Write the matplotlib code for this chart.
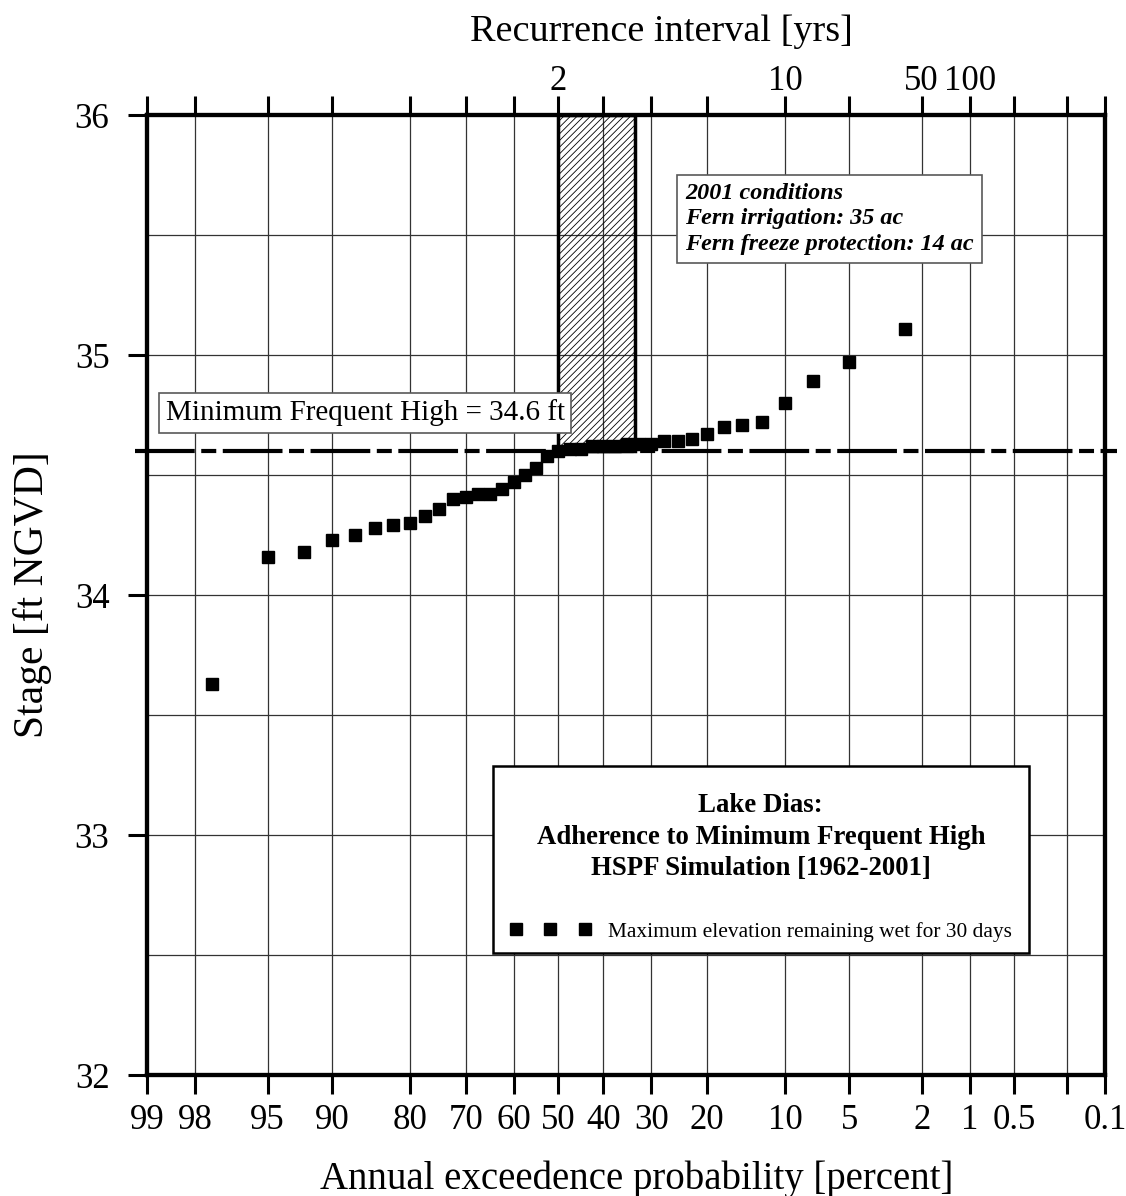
import matplotlib
matplotlib.use('Agg')
import matplotlib.pyplot as plt
from matplotlib.patches import Rectangle
from statistics import NormalDist
import numpy as np

# annual exceedance probability [%] (plotting position) and stage [ft NGVD]
exceed_pct = [2.5, 5.0, 7.5, 10.0, 12.5, 15.0, 17.5, 20.0, 22.5, 25.0,
              27.5, 30.0, 32.5, 35.0, 37.5, 40.0, 42.5, 45.0, 47.5, 50.0,
              52.5, 55.0, 57.5, 60.0, 62.5, 65.0, 67.5, 70.0, 72.5, 75.0,
              77.5, 80.0, 82.5, 85.0, 87.5, 90.0, 92.5, 95.0, 97.5]
stage_ft = [35.11, 34.97, 34.89, 34.80, 34.72, 34.71, 34.70, 34.67, 34.65, 34.64,
            34.64, 34.63, 34.63, 34.63, 34.62, 34.62, 34.62, 34.61, 34.61, 34.60,
            34.58, 34.53, 34.50, 34.47, 34.44, 34.42, 34.42, 34.41, 34.40, 34.36,
            34.33, 34.30, 34.29, 34.28, 34.25, 34.23, 34.18, 34.16, 33.63]

prob_ticks = [99, 98, 95, 90, 80, 70, 60, 50, 40, 30, 20, 10, 5, 2, 1, 0.5, 0.2, 0.1]
prob_labels = ['99', '98', '95', '90', '80', '70', '60', '50', '40', '30', '20',
               '10', '5', '2', '1', '0.5', '', '0.1']
ri_ticks = [2, 10, 50, 100]          # recurrence interval [yrs]
stage_ticks = [32, 33, 34, 35, 36]

mfh = 34.6                            # minimum frequent high
band_ri = [2, 3]                      # hatched band, recurrence interval [yrs]

plt.rcParams['font.family'] = ['Liberation Serif', 'DejaVu Serif']
plt.rcParams['lines.scale_dashes'] = False
plt.rcParams['hatch.linewidth'] = 0.6

_nd = NormalDist()
_ppf = np.vectorize(_nd.inv_cdf, otypes=[float])
_cdf = np.vectorize(_nd.cdf, otypes=[float])


def fwd(p):
    p = np.clip(np.asarray(p, dtype=float), 1e-7, 100 - 1e-7)
    return _ppf(p / 100.)


def inv(z):
    return 100. * _cdf(np.asarray(z, dtype=float))


fig = plt.figure(figsize=(11.26, 11.96), dpi=100)
ax = fig.add_axes([147 / 1126, 1 - 1075 / 1196, 958 / 1126, 960 / 1196])
ax.set_xscale('function', functions=(fwd, inv))

ax.plot(exceed_pct, stage_ft, 's', color='black', ms=8, ls='none', zorder=4,
        label='Maximum elevation remaining wet for 30 days')

# hatched band between 2 and 3 year recurrence
x0, x1 = 100. / band_ri[0], 100. / band_ri[1]
ax.add_patch(Rectangle((x1, mfh), x0 - x1, 36 - mfh, facecolor='none',
                       edgecolor='black', hatch='/////', lw=2.5, zorder=1.5))

# minimum frequent high line
ax.plot([-0.013, 1.013], [mfh, mfh], transform=ax.get_yaxis_transform(),
        color='black', lw=3, dashes=(43, 4.7, 10.8, 4.7), clip_on=False,
        zorder=3)

ax.set_xlim(99, 0.1)
ax.set_ylim(32, 36)
ax.set_xticks(prob_ticks)
ax.set_xticklabels(prob_labels)
ax.set_yticks(stage_ticks)
ax.set_yticks(np.arange(32.5, 36, 1.0), minor=True)
ax.xaxis.set_minor_locator(matplotlib.ticker.NullLocator())
ax.tick_params(axis='both', which='major', direction='out', length=14,
               width=2.2, labelsize=25)
ax.tick_params(axis='x', which='major', pad=7)
ax.tick_params(axis='y', which='major', pad=13)
ax.tick_params(axis='y', which='minor', length=0)
ax.grid(True, which='both', color='0.2', lw=0.9)
ax.set_axisbelow(True)
for s in ax.spines.values():
    s.set_linewidth(3)

ax.set_xlabel('Annual exceedence probability [percent]', fontsize=28)
ax.xaxis.set_label_coords(0.511, -0.089)
ax.set_ylabel('Stage [ft NGVD]', fontsize=30)
ax.yaxis.set_label_coords(-0.099, 0.5)

# top axis: recurrence interval
ri_pos = [100. / t for t in ri_ticks]
top_labels = []
for p in prob_ticks:
    if p in ri_pos:
        top_labels.append(str(ri_ticks[ri_pos.index(p)]))
    else:
        top_labels.append('')

ax2 = ax.twiny()
ax2.set_xscale('function', functions=(fwd, inv))
ax2.set_xlim(99, 0.1)
ax2.set_xticks(prob_ticks)
ax2.set_xticklabels(top_labels)
ax2.xaxis.set_minor_locator(matplotlib.ticker.NullLocator())
ax2.tick_params(axis='x', direction='out', length=14, width=2.2, labelsize=25,
                pad=-1.4)
ax2.set_xlabel('Recurrence interval [yrs]', fontsize=27.5)
ax2.xaxis.set_label_coords(0.537, 1.077)
for s in ax2.spines.values():
    s.set_linewidth(3)

ax.text(0.2276, 0.690, 'Minimum Frequent High = 34.6 ft', transform=ax.transAxes,
        fontsize=21, ha='center', va='center', zorder=6,
        bbox=dict(boxstyle='square,pad=0.22', fc='white', ec='0.35', lw=1.2))

ax.text(0.5616, 0.929, '2001 conditions\nFern irrigation: 35 ac\nFern freeze protection: 14 ac',
        transform=ax.transAxes, fontsize=17.4, fontweight='bold', fontstyle='italic',
        ha='left', va='top', linespacing=1.27, zorder=6,
        bbox=dict(boxstyle='square,pad=0.33', fc='white', ec='0.35', lw=1.2))

# legend box frame
ax.add_patch(Rectangle((0.3607, 0.1271), 0.560, 0.1948, transform=ax.transAxes,
                       facecolor='white', edgecolor='black', lw=1.8, zorder=5))

leg = ax.legend(loc='center', bbox_to_anchor=(0.6407, 0.2162), numpoints=3,
                handlelength=3.8, handletextpad=0.8, borderpad=0.85,
                labelspacing=1.9, fontsize=15.4, frameon=False,
                title='Lake Dias:\nAdherence to Minimum Frequent High\nHSPF Simulation [1962-2001]',
                title_fontproperties={'weight': 'bold', 'size': 19.25})
leg.get_title().set_multialignment('center')
leg.get_title().set_linespacing(1.35)
leg.set_zorder(6)

fig.savefig('out.png', dpi=100)
